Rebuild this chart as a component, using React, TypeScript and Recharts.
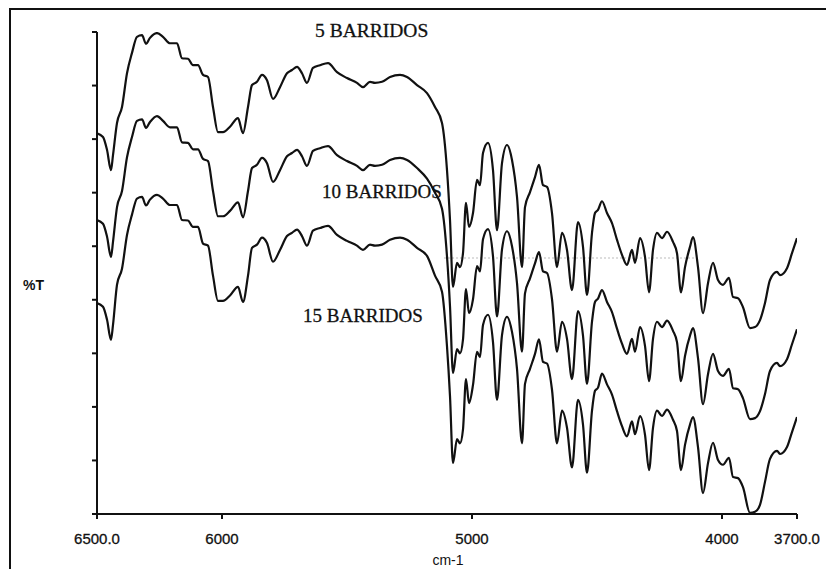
import React from 'react';
import { LineChart, Line, XAxis, YAxis, ReferenceLine } from 'recharts';

// wavenumber (cm-1) of each sample
const wavenumbers = [
  6500, 6476, 6460, 6444, 6436, 6420, 6400, 6380, 6360, 6340, 6320, 6304, 6288, 6260, 6236, 6208,
  6180, 6160, 6136, 6116, 6096, 6076, 6056, 6036, 6016, 5996, 5968, 5936, 5916, 5896, 5880, 5860,
  5840, 5820, 5796, 5768, 5740, 5720, 5700, 5680, 5660, 5636, 5608, 5576, 5540, 5500, 5460, 5436,
  5408, 5388, 5360, 5328, 5288, 5260, 5220, 5180, 5148, 5120, 5100, 5088, 5076, 5060, 5048, 5036,
  5024, 5012, 4996, 4980, 4968, 4956, 4936, 4916, 4900, 4880, 4860, 4840, 4820, 4800, 4788, 4768,
  4748, 4732, 4716, 4700, 4680, 4660, 4640, 4620, 4600, 4576, 4556, 4540, 4520, 4508, 4496, 4480,
  4460, 4440, 4420, 4400, 4380, 4360, 4348, 4328, 4308, 4292, 4276, 4260, 4240, 4220, 4196, 4180,
  4164, 4148, 4128, 4116, 4096, 4076, 4056, 4036, 4016, 3996, 3972, 3956, 3936, 3916, 3888, 3868,
  3848, 3828, 3808, 3780, 3768, 3740, 3720, 3700,
];

// %T, 5 barridos (top trace)
const scans5 = [
  71.1, 70.4, 68.0, 64.2, 67.0, 73.0, 76.0, 82.3, 86.1, 89.1, 89.4, 87.8, 88.9, 89.8, 89.1, 87.9,
  87.9, 85.1, 85.0, 83.8, 83.8, 82.0, 81.6, 76.0, 71.3, 71.3, 72.3, 73.9, 71.1, 76.0, 80.1, 80.7,
  82.0, 81.0, 77.5, 79.7, 82.3, 82.9, 83.5, 82.3, 80.5, 83.3, 83.8, 84.2, 82.5, 81.4, 80.5, 79.7,
  80.7, 80.5, 80.7, 81.6, 82.0, 81.6, 80.1, 78.6, 76.0, 73.0, 64.2, 54.9, 42.4, 46.9, 46.1, 48.7,
  58.1, 53.6, 56.2, 62.4, 61.4, 67.4, 69.3, 64.2, 53.0, 65.5, 68.9, 66.1, 59.2, 46.1, 57.3, 60.1,
  62.9, 65.2, 61.4, 61.1, 56.2, 46.1, 52.5, 49.3, 41.8, 54.5, 49.9, 40.9, 52.5, 56.2, 56.8, 58.4,
  56.2, 54.3, 51.2, 48.4, 46.5, 49.3, 46.9, 51.5, 48.0, 41.4, 49.3, 52.5, 51.5, 52.7, 50.8, 48.7,
  41.4, 46.1, 49.9, 51.7, 46.1, 37.5, 43.1, 46.9, 43.7, 42.8, 44.1, 40.5, 40.3, 38.6, 34.7, 34.9,
  36.2, 39.4, 43.7, 45.2, 44.6, 45.9, 48.7, 51.5,
];

// %T, 10 barridos (middle trace)
const scans10 = [
  54.9, 54.2, 51.8, 48.0, 50.8, 57.3, 60.3, 66.6, 70.4, 73.4, 73.7, 72.1, 73.2, 74.3, 73.4, 72.2,
  72.2, 69.4, 69.3, 68.1, 68.1, 66.3, 65.9, 60.3, 55.6, 55.6, 56.6, 58.2, 55.4, 60.3, 64.6, 65.2,
  66.5, 65.5, 62.0, 64.2, 66.8, 67.4, 68.0, 66.8, 65.0, 67.8, 68.3, 68.7, 67.0, 65.9, 65.0, 64.2,
  65.2, 65.0, 65.2, 66.1, 66.5, 66.1, 64.6, 62.6, 60.0, 57.0, 48.1, 38.8, 26.3, 30.8, 30.0, 32.6,
  42.0, 37.5, 40.1, 46.3, 45.3, 51.3, 53.2, 48.1, 36.9, 49.4, 52.8, 50.0, 43.1, 30.3, 41.2, 44.0,
  46.8, 48.9, 45.3, 45.0, 40.1, 30.3, 35.9, 32.7, 25.2, 37.9, 33.3, 24.3, 35.9, 39.6, 40.2, 41.8,
  39.6, 37.7, 34.6, 31.8, 29.9, 32.7, 30.3, 34.9, 31.4, 24.8, 32.7, 35.9, 34.9, 36.1, 34.2, 32.1,
  24.8, 29.5, 33.3, 34.7, 29.1, 20.5, 26.1, 29.9, 26.7, 25.8, 27.1, 23.5, 23.3, 21.6, 17.7, 17.9,
  19.2, 22.4, 26.7, 28.2, 27.6, 28.9, 31.7, 34.5,
];

// %T, 15 barridos (bottom trace)
const scans15 = [
  39.4, 38.7, 36.3, 32.5, 35.3, 42.8, 45.8, 52.1, 55.9, 58.9, 59.2, 57.6, 58.7, 59.6, 58.9, 57.7,
  57.7, 54.9, 54.8, 53.6, 53.6, 50.5, 50.1, 44.5, 39.8, 39.8, 40.8, 42.4, 39.6, 44.5, 49.7, 50.3,
  51.6, 50.6, 47.1, 49.3, 51.9, 52.5, 53.1, 51.9, 50.1, 52.9, 53.4, 53.8, 52.1, 51.0, 50.1, 49.3,
  50.3, 50.1, 50.3, 51.2, 51.6, 51.2, 49.7, 48.2, 44.5, 41.5, 31.3, 22.0, 9.5, 14.0, 13.2, 15.8,
  25.2, 20.7, 24.1, 30.3, 29.3, 35.3, 37.2, 32.1, 21.3, 33.4, 36.8, 34.0, 27.1, 13.2, 24.3, 27.1,
  29.9, 32.6, 28.4, 28.1, 23.2, 13.2, 19.3, 16.1, 8.7, 21.3, 16.7, 7.7, 19.3, 23.0, 23.6, 26.2,
  24.2, 22.3, 19.2, 16.4, 14.5, 17.3, 14.9, 18.3, 14.8, 8.2, 16.1, 19.3, 18.3, 19.5, 17.6, 15.5,
  8.2, 12.9, 16.7, 18.1, 12.5, 3.9, 9.5, 13.3, 10.1, 9.2, 10.5, 6.9, 6.7, 5.0, 0.2, 0.4,
  1.7, 6.0, 10.3, 11.8, 11.2, 12.5, 15.3, 18.1,
];

const xTicks = [6500, 6000, 5000, 4000, 3700];
const xTickLabels: Record<number, string> = {
  6500: '6500.0',
  6000: '6000',
  5000: '5000',
  4000: '4000',
  3700: '3700.0',
};
const yTicks = [0, 10, 20, 30, 40, 50, 60, 70, 80, 90];

const traceLabels = ['5 BARRIDOS', '10 BARRIDOS', '15 BARRIDOS'];

const data = wavenumbers.map((wn, i) => ({
  wn,
  s5: scans5[i],
  s10: scans10[i],
  s15: scans15[i],
}));

const sans = '"Liberation Sans", Arial, sans-serif';
const serif = '"Liberation Serif", "Times New Roman", serif';

export default function App() {
  return (
    <div style={{ position: 'absolute', left: 0, top: 0, width: 826, height: 569, background: '#fff' }}>
      {/* scanned page frame */}
      <div
        style={{
          position: 'absolute',
          left: 9,
          top: 8,
          width: 830,
          height: 580,
          borderTop: '2px solid #111',
          borderLeft: '2px solid #111',
        }}
      />
      <LineChart
        width={826}
        height={569}
        data={data}
        margin={{ top: 32, right: 29, bottom: 25, left: 77 }}
        style={{ position: 'absolute', left: 0, top: 0 }}
      >
        <XAxis
          dataKey="wn"
          type="number"
          domain={[3700, 6500]}
          reversed
          ticks={xTicks}
          tickFormatter={(v) => xTickLabels[v] ?? String(v)}
          height={30}
          stroke="#111"
          strokeWidth={2}
          tickSize={5}
          tickMargin={14}
          tick={{ fill: '#111', fontSize: 15, fontFamily: sans, stroke: '#111', strokeWidth: 0.3 }}
          allowDataOverflow
        />
        <YAxis
          type="number"
          domain={[0, 90]}
          ticks={yTicks}
          tickFormatter={() => ''}
          width={20}
          stroke="#111"
          strokeWidth={2}
          tickSize={5}
          allowDataOverflow
        />
        <ReferenceLine
          segment={[
            { x: 5110, y: 47.8 },
            { x: 4100, y: 47.8 },
          ]}
          stroke="#777"
          strokeWidth={1}
          strokeDasharray="1 3"
        />
        <Line type="monotone" dataKey="s5" stroke="#111" strokeWidth={2.2} dot={false} isAnimationActive={false} />
        <Line type="monotone" dataKey="s10" stroke="#111" strokeWidth={2.2} dot={false} isAnimationActive={false} />
        <Line type="monotone" dataKey="s15" stroke="#111" strokeWidth={2.2} dot={false} isAnimationActive={false} />
      </LineChart>
      <svg width={826} height={569} style={{ position: 'absolute', left: 0, top: 0, pointerEvents: 'none' }}>
        <text x={315} y={37} fontFamily={serif} fontSize={19.5} fill="#111" stroke="#111" strokeWidth={0.3}>
          {traceLabels[0]}
        </text>
        <text x={322} y={198} fontFamily={serif} fontSize={19} fill="#111" stroke="#111" strokeWidth={0.3}>
          {traceLabels[1]}
        </text>
        <text x={303} y={322} fontFamily={serif} fontSize={19} fill="#111" stroke="#111" strokeWidth={0.3}>
          {traceLabels[2]}
        </text>
        <text x={23} y={290} fontFamily={sans} fontSize={14} fontWeight="bold" fill="#111">
          %T
        </text>
        <text x={448} y={565} fontFamily={sans} fontSize={14} textAnchor="middle" fill="#111">
          cm-1
        </text>
      </svg>
    </div>
  );
}
